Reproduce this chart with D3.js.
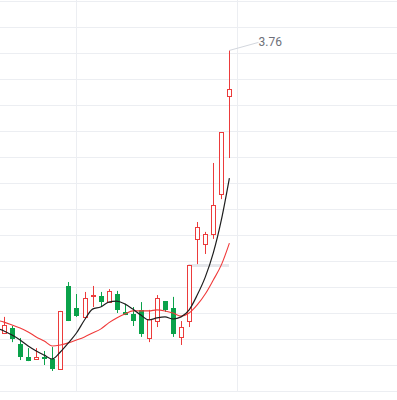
<!DOCTYPE html>
<html>
<head>
<meta charset="utf-8">
<script src="https://cdn.jsdelivr.net/npm/d3@7"></script>
<style>
  html, body { margin: 0; padding: 0; background: #fff; overflow: hidden; }
  svg { display: block; }
</style>
</head>
<body>
<svg id="chart" width="397" height="400"></svg>
<script>
// index -1 is the candle just off the left edge
const idx = d3.range(-1, 29);
const opens  = [2.700, 2.673, 2.692, 2.631, 2.581, 2.573, 2.581, 2.573, 2.535, 2.852, 2.769, 2.735, 2.815, 2.815, 2.792, 2.823, 2.754, 2.746, 2.762, 2.654, 2.719, 2.796, 2.769, 2.658, 2.719, 3.035, 3.015, 3.054, 3.208, 3.585];
const closes = [2.690, 2.704, 2.650, 2.581, 2.565, 2.581, 2.573, 2.535, 2.758, 2.719, 2.738, 2.808, 2.819, 2.792, 2.835, 2.762, 2.742, 2.719, 2.669, 2.727, 2.808, 2.762, 2.669, 2.696, 2.935, 3.081, 3.054, 3.165, 3.446, 3.612];
const highs  = [2.720, 2.735, 2.700, 2.654, 2.615, 2.615, 2.604, 2.619, 2.758, 2.869, 2.823, 2.831, 2.854, 2.831, 2.842, 2.835, 2.785, 2.773, 2.792, 2.762, 2.819, 2.796, 2.812, 2.719, 2.935, 3.100, 3.062, 3.327, 3.446, 3.760];
const lows   = [2.680, 2.669, 2.638, 2.569, 2.565, 2.573, 2.550, 2.527, 2.535, 2.719, 2.735, 2.735, 2.773, 2.773, 2.792, 2.750, 2.742, 2.700, 2.658, 2.638, 2.696, 2.754, 2.658, 2.627, 2.696, 2.938, 2.977, 3.035, 3.188, 3.346];
const ma5    = [2.692, 2.681, 2.665, 2.646, 2.623, 2.604, 2.588, 2.573, 2.600, 2.635, 2.673, 2.723, 2.765, 2.773, 2.792, 2.796, 2.785, 2.765, 2.742, 2.723, 2.731, 2.735, 2.727, 2.735, 2.762, 2.819, 2.888, 2.981, 3.108, 3.269];
const ma10   = [2.723, 2.715, 2.704, 2.692, 2.677, 2.658, 2.642, 2.623, 2.627, 2.635, 2.646, 2.658, 2.673, 2.688, 2.712, 2.731, 2.746, 2.758, 2.758, 2.758, 2.762, 2.758, 2.750, 2.738, 2.750, 2.781, 2.823, 2.877, 2.935, 3.019];
const gridX = [9, 29];
const maxLabel = '3.76';
const dateLabel = '2024/05/22';

const svg = d3.select('#chart');
const W = 397, H = 400;

const x = d3.scaleLinear().domain([0, 28]).range([4, 229.4]);
const y = d3.scaleLinear().domain([2.45, 3.95]).range([391, 1]);

const data = idx.map((d, k) => ({
    i: d, o: opens[k], c: closes[k], h: highs[k], l: lows[k]
}));

// grid
const grid = svg.append('g');
grid.selectAll('line.h')
    .data(d3.range(0, 16).map(k => 3.95 - k * 0.1))
    .join('line')
    .attr('x1', 0).attr('x2', W)
    .attr('y1', d => Math.round(y(d)) + 0.5)
    .attr('y2', d => Math.round(y(d)) + 0.5)
    .attr('stroke', '#eceef2')
    .attr('stroke-width', 1);
grid.selectAll('line.v')
    .data(gridX)
    .join('line')
    .attr('x1', d => Math.round(x(d)) + 0.5)
    .attr('x2', d => Math.round(x(d)) + 0.5)
    .attr('y1', 0).attr('y2', y(2.45))
    .attr('stroke', '#eceef2')
    .attr('stroke-width', 1);

// grey marker bar near the breakout candle
svg.append('rect')
    .attr('x', Math.round(x(23)) - 1)
    .attr('y', Math.round(y(2.935)) - 1)
    .attr('width', Math.round(x(28)) - Math.round(x(23)) + 1)
    .attr('height', 3)
    .attr('fill', '#e6e8ec');

const red = '#ec3b3b', green = '#0aa24a';

// candles
const cg = svg.append('g');
data.forEach(d => {
    let cx = Math.round(x(d.i));
    let up = d.c >= d.o;
    let col = up ? red : green;
    cg.append('line')
        .attr('x1', cx + 0.5).attr('x2', cx + 0.5)
        .attr('y1', y(d.h)).attr('y2', y(d.l))
        .attr('stroke', col).attr('stroke-width', 1);
    let top = y(Math.max(d.o, d.c)), bot = y(Math.min(d.o, d.c));
    if (up) {
        cg.append('rect')
            .attr('x', cx - 1.5).attr('y', Math.round(top) + 0.5)
            .attr('width', 4).attr('height', Math.max(1, Math.round(bot) - Math.round(top)))
            .attr('fill', '#fff').attr('stroke', col).attr('stroke-width', 1);
    } else {
        cg.append('rect')
            .attr('x', cx - 2).attr('y', Math.round(top))
            .attr('width', 5).attr('height', Math.max(1, Math.round(bot) - Math.round(top)))
            .attr('fill', col);
    }
});

// moving averages
const line = vals => d3.line()
    .x((d, k) => x(idx[k]))
    .y(d => y(d))
    .curve(d3.curveMonotoneX)(vals);

svg.append('path').attr('d', line(ma10))
    .attr('fill', 'none').attr('stroke', '#f03a3a').attr('stroke-width', 1.1);
svg.append('path').attr('d', line(ma5))
    .attr('fill', 'none').attr('stroke', '#1e1e1e').attr('stroke-width', 1.2);

// max label
const hx = Math.round(x(28)) + 0.5, hy = y(3.76);
svg.append('line')
    .attr('x1', hx).attr('y1', hy)
    .attr('x2', hx + 29).attr('y2', hy - 8)
    .attr('stroke', '#d3d7de').attr('stroke-width', 1);
svg.append('text')
    .attr('x', hx + 29).attr('y', hy - 4)
    .attr('font-family', 'Roboto, "Noto Sans", sans-serif')
    .attr('font-size', 12)
    .attr('fill', '#6e7079')
    .text(maxLabel);

// x-axis label, mostly below the visible area
svg.append('text')
    .attr('x', x(6))
    .attr('y', 409)
    .attr('text-anchor', 'middle')
    .attr('font-family', 'Roboto, "Noto Sans", sans-serif')
    .attr('font-size', 12)
    .attr('fill', '#f3d6ea')
    .text(dateLabel);
</script>
</body>
</html>
